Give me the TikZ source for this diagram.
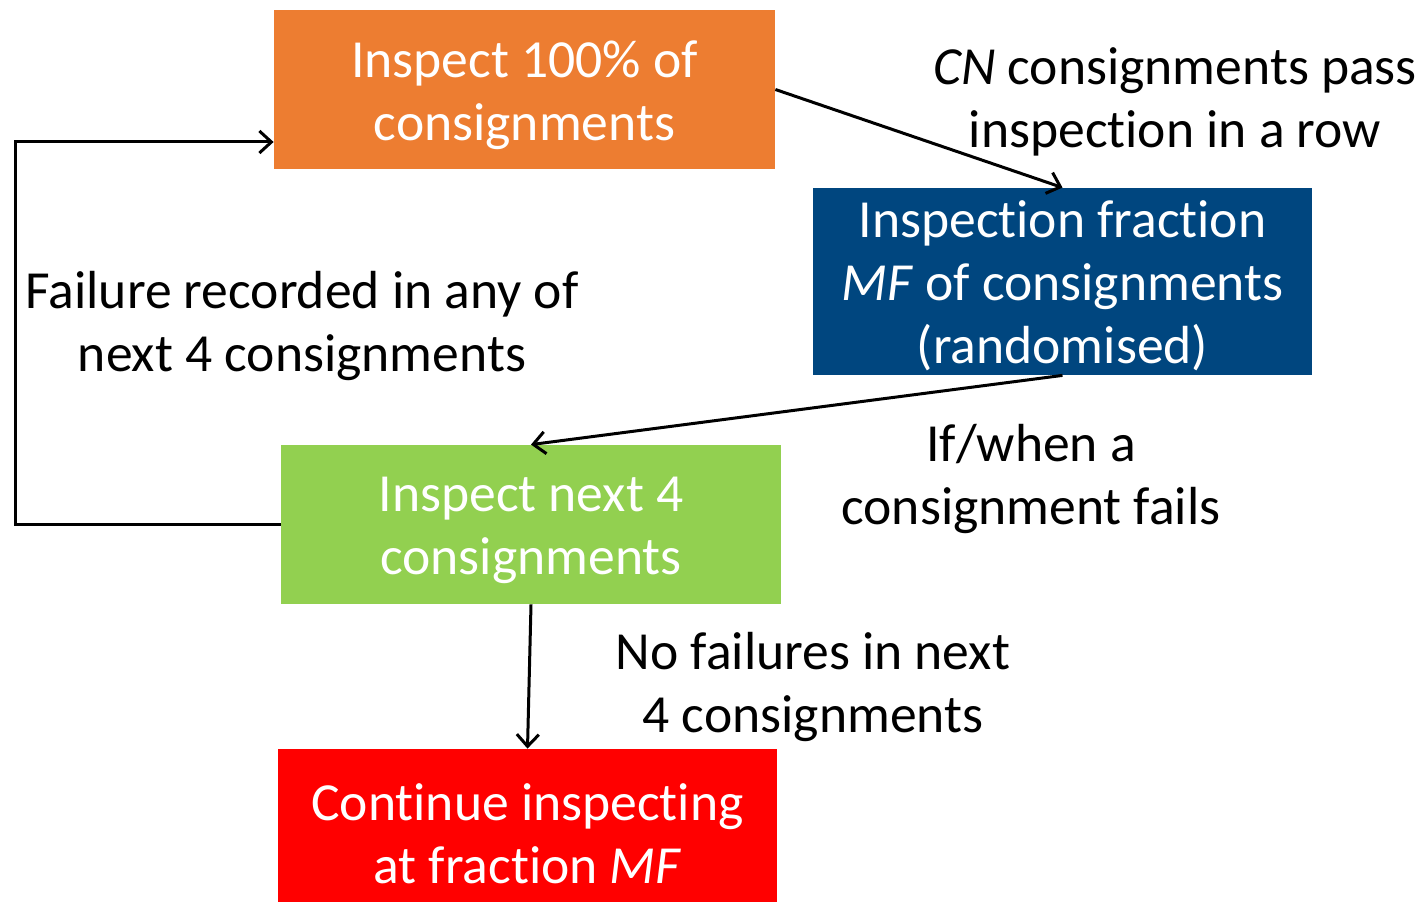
\documentclass[tikz,border=0pt]{standalone}
\usepackage{fontspec}
\setmainfont{Carlito}[Ligatures=NoCommon]
\usetikzlibrary{arrows.meta}
\definecolor{borange}{RGB}{237,125,49}
\definecolor{bblue}{RGB}{0,70,127}
\definecolor{bgreen}{RGB}{146,208,80}
\definecolor{bred}{RGB}{255,0,0}
\begin{document}
\begin{tikzpicture}[x=0.5pt,y=-0.5pt,
  box/.style={rectangle, inner sep=0pt},
  btxt/.style={inner sep=0pt, text=white, align=center, font=\fontsize{26.8}{31.5}\selectfont},
  lbl/.style={inner sep=0pt, align=center, font=\fontsize{26.8}{31.5}\selectfont},
  conn/.style={line width=1.5pt, -{Straight Barb[length=6pt,width=11pt,line width=1.5pt]}}]
\useasboundingbox (0,0) rectangle (1418,903);
\node[box, fill=borange, minimum width=250.5pt, minimum height=79.5pt] (o) at (524.5,89.5) {};
\node[box, fill=bblue, minimum width=249.5pt, minimum height=93.5pt] (b) at (1062.5,281.5) {};
\node[box, fill=bgreen, minimum width=250pt, minimum height=79.5pt] (g) at (531,524.5) {};
\node[box, fill=bred, minimum width=249.5pt, minimum height=76.5pt] (r) at (527.5,825.5) {};
\node[btxt] (ot) at (524.5,95) {Inspect 100\% of\\consignments};
\node[btxt] (bt) at (1062.5,286) {Inspection fraction\\\textit{MF} of consignments\\(randomised)};
\node[btxt] (gt) at (531,530) {Inspect next 4\\consignments};
\node[btxt] (rt) at (527.5,834) {Continue inspecting\\at fraction \textit{MF}};
\node[lbl] (l1) at (1175,102) {\textit{CN} consignments pass\\inspection in a row};
\node[lbl] (l2) at (302,326) {Failure recorded in any of\\next 4 consignments};
\node[lbl] (l3) at (1031,479) {If/when a\\consignment fails};
\node[lbl] (l4) at (813,687) {No failures in next\\4 consignments};
\coordinate (lp) at (15,142);
\draw[conn] (o.east) -- (b.north);
\draw[conn] (b.south) -- (g.north);
\draw[conn] (g.south) -- (r.north);
\draw[conn] (g.west) -- (g.west -| lp) -- (lp) -- (o.west |- lp);
\end{tikzpicture}
\end{document}
